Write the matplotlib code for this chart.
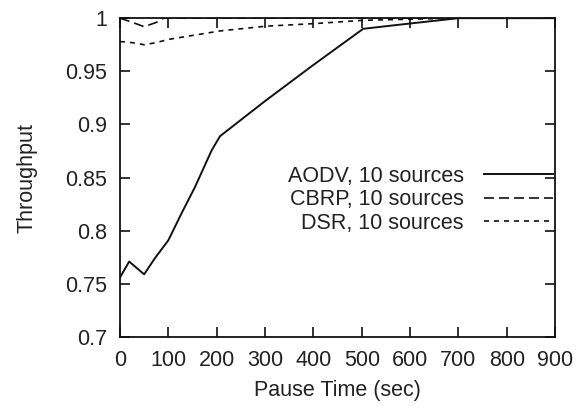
import matplotlib
matplotlib.use("Agg")
import matplotlib.pyplot as plt

# pause time (sec) and throughput per protocol
aodv_x = [0, 19, 50, 72, 100, 128, 155, 190, 207, 300, 400, 503, 600, 700, 800, 900]
aodv_y = [0.756, 0.771, 0.759, 0.774, 0.791, 0.817, 0.841, 0.876, 0.889, 0.922, 0.956, 0.990, 0.995, 1.0, 1.0, 1.0]

cbrp_x = [0, 20, 50, 75, 90, 100, 200, 300, 400, 500, 600, 700, 800, 900]
cbrp_y = [1.0, 0.997, 0.992, 0.996, 1.0, 1.0, 1.0, 1.0, 1.0, 1.0, 1.0, 1.0, 1.0, 1.0]

dsr_x = [0, 25, 50, 75, 100, 207, 303, 406, 503, 600, 700, 800, 900]
dsr_y = [0.978, 0.977, 0.975, 0.977, 0.98, 0.988, 0.9925, 0.995, 0.998, 0.999, 1.0, 1.0, 1.0]

labels = ["AODV, 10 sources", "CBRP, 10 sources", "DSR, 10 sources"]

plt.rcParams["font.family"] = ["Liberation Sans", "DejaVu Sans"]
plt.rcParams["font.size"] = 15.5
txt = "#222222"

fig = plt.figure(figsize=(5.81, 4.13), dpi=100)
ax = fig.add_axes([0.2065, 0.184, 0.749, 0.772])

ax.plot(aodv_x, aodv_y, color="#111111", lw=1.4, label=labels[0])
ax.plot(cbrp_x, cbrp_y, color="#111111", lw=1.2, dashes=(6, 3), label=labels[1])
ax.plot(dsr_x, dsr_y, color="#111111", lw=1.2, dashes=(3, 3), label=labels[2])

ax.set_xlim(0, 900)
ax.set_ylim(0.7, 1.0)
ax.set_xticks(range(0, 901, 100))
ax.set_yticks([0.7, 0.75, 0.8, 0.85, 0.9, 0.95, 1.0])
ax.set_yticklabels(["0.7", "0.75", "0.8", "0.85", "0.9", "0.95", "1"])
ax.tick_params(direction="in", length=7, width=1.2, top=True, right=True,
               colors="#111111", labelcolor=txt, pad=9)
for s in ax.spines.values():
    s.set_linewidth(1.3)
    s.set_color("#111111")

ax.set_xlabel("Pause Time (sec)", color=txt, labelpad=7)
ax.set_ylabel("Throughput", color=txt)
ax.yaxis.set_label_coords(-0.19, 0.5)

ax.legend(loc="center right", bbox_to_anchor=(1.0, 0.43), frameon=False,
          markerfirst=False, handlelength=3.2, labelspacing=0.12,
          handletextpad=0.95, borderaxespad=0.0, borderpad=0.1,
          labelcolor=txt)
for t in ax.get_legend().get_texts():
    t.set_ha("right")

fig.savefig("out.png", dpi=100)
